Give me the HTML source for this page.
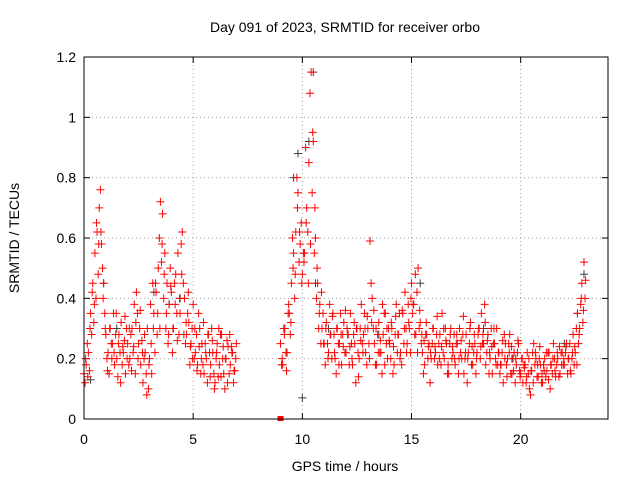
<!DOCTYPE html>
<html><head><meta charset="utf-8"><style>
body{margin:0;background:#fff}
svg{display:block;font-family:"Liberation Sans",sans-serif}
</style></head><body>
<svg id="c" width="640" height="480">
<text x="345" y="32" font-size="14" text-anchor="middle">Day 091 of 2023, SRMTID for receiver orbo</text>
<text x="345" y="471" font-size="14" text-anchor="middle">GPS time / hours</text>
<text transform="translate(19,238) rotate(-90)" font-size="14" text-anchor="middle">SRMTID / TECUs</text>
<g id="grid"></g><g id="ticks"></g><g id="pts"></g>
<rect x="84" y="57" width="524" height="362" fill="none" stroke="#000"/>
</svg>
<script>
const xTicks=[0,5,10,15,20];
const yTicks=[0,0.2,0.4,0.6,0.8,1,1.2];
const seg1Start=0, seg2Start=9.0, step=0.1;
const seg1A=[0.15,0.18,0.22,0.35,0.45,0.55,0.62,0.70,0.58,0.45,0.28,0.22,0.30,0.25,0.18,0.20,0.28,0.32,0.22,0.15,0.25,0.20,0.30,0.38,0.42,0.25,0.18,0.12,0.22,0.30,0.20,0.15,0.35,0.42,0.50,0.72,0.68,0.55,0.45,0.38,0.42,0.30,0.48,0.55,0.35,0.62,0.40,0.28,0.32,0.25,0.38,0.22,0.18,0.30,0.25,0.15,0.20,0.28,0.18,0.22,0.12,0.25,0.18,0.28,0.15,0.20,0.24,0.18,0.22,0.16];
const seg1B=[0.12,0.25,0.16,0.28,0.32,0.40,0.48,0.76,0.50,0.35,0.20,0.15,0.25,0.35,0.28,0.14,0.22,0.18,0.26,0.30,0.18,0.28,0.22,0.15,0.35,0.30,0.26,0.20,0.15,0.10,0.38,0.45,0.22,0.28,0.60,0.52,0.40,0.30,0.25,0.50,0.22,0.45,0.35,0.28,0.58,0.45,0.25,0.35,0.18,0.30,0.20,0.28,0.35,0.15,0.18,0.25,0.12,0.22,0.30,0.15,0.20,0.14,0.28,0.20,0.10,0.26,0.15,0.24,0.12,0.20];
const seg1C=[0.20,0.14,0.30,0.42,0.38,0.65,0.58,0.62,0.40,0.30,0.16,0.30,0.20,0.22,0.35,0.25,0.12,0.24,0.34,0.20,0.30,0.16,0.24,0.32,0.20,0.36,0.22,0.28,0.08,0.18,0.25,0.30,0.45,0.35,0.30,0.58,0.48,0.35,0.28,0.44,0.30,0.38,0.26,0.40,0.48,0.28,0.32,0.42,0.24,0.20,0.30,0.16,0.24,0.20,0.32,0.22,0.28,0.14,0.26,0.10,0.22,0.30,0.14,0.24,0.20,0.12,0.28,0.22,0.16,0.25];
const seg2A=[0.25,0.18,0.30,0.22,0.35,0.45,0.55,0.62,0.75,0.58,0.48,0.55,0.70,0.85,1.15,0.92,0.60,0.45,0.38,0.30,0.25,0.32,0.22,0.28,0.35,0.20,0.30,0.25,0.18,0.32,0.22,0.28,0.35,0.18,0.25,0.30,0.20,0.38,0.28,0.22,0.30,0.59,0.40,0.25,0.18,0.32,0.22,0.28,0.35,0.20,0.25,0.30,0.18,0.38,0.28,0.22,0.35,0.42,0.25,0.30,0.45,0.38,0.28,0.50,0.32,0.22,0.18,0.28,0.25,0.20,0.30,0.22,0.18,0.28,0.35,0.20,0.25,0.15,0.30,0.22,0.18,0.25,0.30,0.20,0.15,0.28,0.22,0.32,0.18,0.25,0.22,0.30,0.35,0.25,0.18,0.28,0.20,0.15,0.25,0.30,0.22,0.18,0.12,0.25,0.20,0.28,0.15,0.22,0.18,0.25,0.15,0.12,0.18,0.22,0.10,0.16,0.25,0.20,0.14,0.18,0.12,0.20,0.16,0.22,0.18,0.25,0.14,0.20,0.15,0.22,0.18,0.25,0.20,0.15,0.28,0.22,0.35,0.30,0.45,0.52];
const seg2B=[0.18,0.30,0.22,0.35,0.28,0.60,0.40,0.80,0.52,0.65,0.55,0.90,0.62,1.08,0.75,0.55,0.40,0.30,0.25,0.35,0.18,0.25,0.38,0.20,0.28,0.15,0.25,0.35,0.28,0.22,0.30,0.18,0.25,0.28,0.12,0.22,0.30,0.25,0.35,0.18,0.25,0.45,0.30,0.18,0.28,0.22,0.15,0.35,0.25,0.30,0.20,0.15,0.28,0.22,0.35,0.18,0.25,0.30,0.38,0.22,0.35,0.28,0.42,0.30,0.25,0.15,0.28,0.20,0.12,0.25,0.20,0.28,0.25,0.18,0.22,0.30,0.15,0.25,0.20,0.28,0.25,0.15,0.22,0.28,0.20,0.12,0.25,0.18,0.22,0.15,0.28,0.20,0.25,0.38,0.22,0.15,0.30,0.25,0.20,0.18,0.15,0.22,0.28,0.18,0.25,0.15,0.20,0.12,0.22,0.16,0.20,0.18,0.12,0.15,0.08,0.22,0.18,0.14,0.20,0.12,0.18,0.14,0.22,0.10,0.15,0.20,0.18,0.14,0.22,0.18,0.22,0.15,0.25,0.20,0.18,0.30,0.25,0.38,0.32,0.40];
const seg2C=[0.20,0.28,0.16,0.38,0.32,0.50,0.48,0.70,0.62,0.45,0.52,0.65,0.45,0.58,0.95,0.70,0.50,0.35,0.42,0.25,0.30,0.20,0.28,0.34,0.22,0.30,0.18,0.28,0.24,0.36,0.28,0.24,0.20,0.32,0.30,0.14,0.26,0.22,0.30,0.34,0.20,0.32,0.36,0.30,0.22,0.26,0.38,0.18,0.30,0.26,0.32,0.24,0.34,0.28,0.20,0.36,0.30,0.22,0.32,0.40,0.38,0.48,0.22,0.36,0.28,0.26,0.32,0.24,0.22,0.30,0.24,0.34,0.20,0.24,0.30,0.26,0.18,0.28,0.24,0.20,0.28,0.20,0.26,0.34,0.22,0.20,0.30,0.24,0.28,0.20,0.30,0.24,0.28,0.32,0.26,0.22,0.24,0.30,0.18,0.22,0.18,0.26,0.20,0.14,0.22,0.24,0.16,0.20,0.26,0.14,0.20,0.17,0.14,0.20,0.16,0.12,0.22,0.18,0.24,0.15,0.16,0.22,0.13,0.18,0.20,0.16,0.22,0.24,0.18,0.20,0.24,0.20,0.16,0.22,0.24,0.18,0.28,0.40,0.36,0.46];
const grayT=[0.3,0.9,1.5,3.2,3.9,4.4,9.6,9.8,10.0,10.3,10.5,10.6,11.2,13.5,15.4,18.3,19.6,22.0,22.6,22.9];
const grayV=[0.13,0.45,0.30,0.42,0.38,0.40,0.80,0.88,0.07,0.92,1.15,0.45,0.30,0.28,0.45,0.30,0.20,0.25,0.35,0.48];
const gapT=[9.0], gapV=[0];

const X=t=>84+t*(524/24), Y=v=>419-v*(362/1.2);
const NS='http://www.w3.org/2000/svg';
function mk(tag,attrs,parent){const e=document.createElementNS(NS,tag);for(const k in attrs)e.setAttribute(k,attrs[k]);parent.appendChild(e);return e;}
const grid=document.getElementById('grid'),ticks=document.getElementById('ticks'),pts=document.getElementById('pts');
yTicks.forEach(v=>{
  if(v>0&&v<1.2){const l=mk('line',{x1:84,x2:608,y1:Y(v),y2:Y(v),stroke:'#a0a0a0','stroke-dasharray':'1,3'},grid);
  
  }
  mk('line',{x1:84,x2:90,y1:Y(v),y2:Y(v),stroke:'#000'},ticks);
  mk('line',{x1:602,x2:608,y1:Y(v),y2:Y(v),stroke:'#000'},ticks);
  const t=mk('text',{x:76,y:Y(v)+5,'font-size':14,'text-anchor':'end'},ticks);t.textContent=v;
  
  
});
xTicks.forEach(v=>{
  if(v>0){const l=mk('line',{x1:X(v),x2:X(v),y1:57,y2:419,stroke:'#a0a0a0','stroke-dasharray':'1,3'},grid);
  
  }
  mk('line',{x1:X(v),x2:X(v),y1:413,y2:419,stroke:'#000'},ticks);
  mk('line',{x1:X(v),x2:X(v),y1:57,y2:63,stroke:'#000'},ticks);
  const t=mk('text',{x:X(v),y:444,'font-size':14,'text-anchor':'middle'},ticks);t.textContent=v;
  
  
});
function plus(t,v,col,name){
  const x=X(t),y=Y(v);
  const p=mk('path',{d:`M${x-4},${y}h8M${x},${y-4}v8`,stroke:col,'stroke-width':1,fill:'none'},pts);
  
  
}
grayT.forEach((t,i)=>plus(t,grayV[i],'#404040','gray-point'));
[[seg1Start,seg1A],[seg1Start+0.05,seg1B],[seg1Start+0.075,seg1C],[seg2Start,seg2A],[seg2Start+0.05,seg2B],[seg2Start+0.075,seg2C]].forEach(([s,arr])=>{
  arr.forEach((v,i)=>plus(s+i*step,v,'#ff0000','red-point'));
});
gapT.forEach((t,i)=>{
  const r=mk('rect',{x:X(t)-3,y:Y(gapV[i])-3,width:6,height:5,fill:'#ff0000'},pts);
  
  
});
</script>
</body></html>
